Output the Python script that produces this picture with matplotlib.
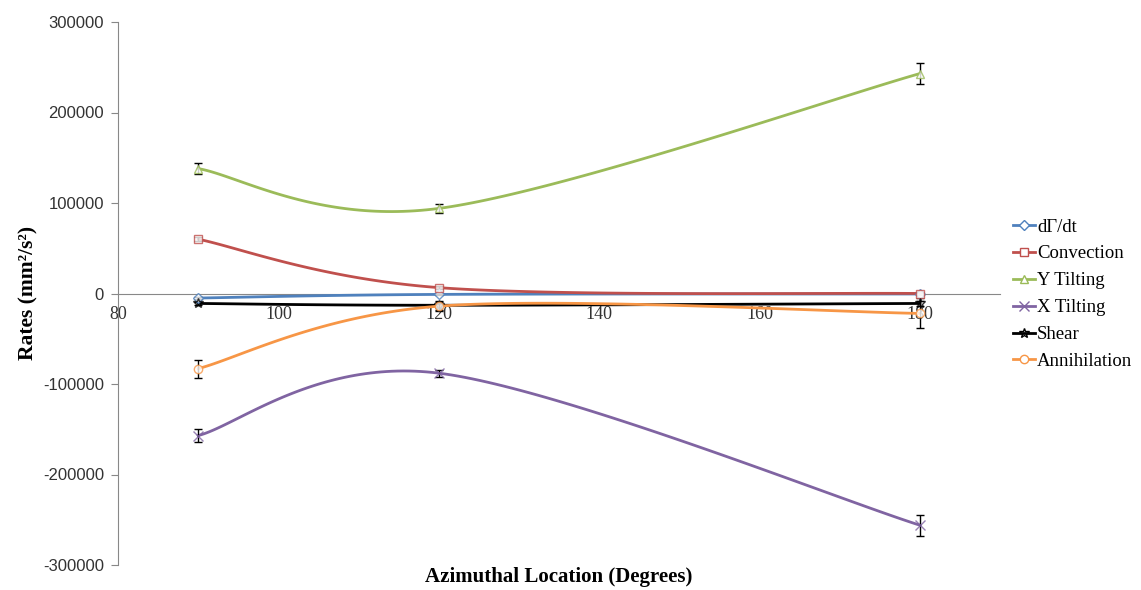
import numpy as np
import matplotlib
matplotlib.use("Agg")
import matplotlib.pyplot as plt

# ---- data ----
x_deg = [90, 120, 180]
series_names = ["d\u0393/dt", "Convection", "Y Tilting", "X Tilting", "Shear", "Annihilation"]
dgdt = [-5000, -1000, -500]
convection = [60000, 6500, 0]
y_tilting = [138000, 94000, 243000]
x_tilting = [-157000, -88000, -256000]
shear = [-11000, -13000, -11000]
annihilation = [-83000, -14000, -22000]

y_tilting_err = [6000, 5000, 11500]
x_tilting_err = [7000, 4000, 11500]
annihilation_err = [10000, 5000, 16500]
shear_err = [1500, 5000, 3000]
convection_err = [2000, 1500, 1500]
dgdt_err = [1500, 1000, 1000]

x_ticks = [80, 100, 120, 140, 160, 180]
y_ticks = [-300000, -200000, -100000, 0, 100000, 200000, 300000]

colors = ["#4F81BD", "#C0504D", "#9BBB59", "#8064A2", "#000000", "#F79646"]
markers = ["D", "s", "^", "x", "*", "o"]
msizes = [5, 6, 6, 7, 7, 6]


def excel_smooth(xs, ys, n=60):
    pts = np.column_stack([xs, ys]).astype(float)
    out = []
    m = len(pts)
    for i in range(m - 1):
        p0 = pts[i - 1] if i > 0 else pts[i]
        p1 = pts[i]
        p2 = pts[i + 1]
        p3 = pts[i + 2] if i + 2 < m else pts[i + 1]
        c1 = p1 + (p2 - p0) / 6.0
        c2 = p2 - (p3 - p1) / 6.0
        t = np.linspace(0, 1, n)[:, None]
        b = ((1 - t) ** 3) * p1 + 3 * ((1 - t) ** 2) * t * c1 + 3 * (1 - t) * t ** 2 * c2 + t ** 3 * p2
        out.append(b if i == 0 else b[1:])
    out = np.vstack(out)
    return out[:, 0], out[:, 1]


fig = plt.figure(figsize=(11.41, 5.90), dpi=100)
ax = fig.add_axes([118 / 1141, 1 - 565 / 590, (1000 - 118) / 1141, (565 - 22) / 590])

data = [dgdt, convection, y_tilting, x_tilting, shear, annihilation]
errs = [dgdt_err, convection_err, y_tilting_err, x_tilting_err, shear_err, annihilation_err]

handles = []
for name, ys, er, c, mk, ms in zip(series_names, data, errs, colors, markers, msizes):
    sx, sy = excel_smooth(x_deg, ys)
    ax.plot(sx, sy, color=c, lw=2.0, zorder=2)
    ax.errorbar(x_deg, ys, yerr=er, fmt="none", ecolor="black", elinewidth=1.0,
                capsize=3, capthick=1.0, zorder=3)
    mfc = "none" if mk in ("x", "*") else "white"
    ax.plot(x_deg, ys, linestyle="none", marker=mk, markersize=ms,
            markeredgecolor=c, markerfacecolor=mfc, markeredgewidth=1.0, zorder=4, alpha=0.8)
    h, = ax.plot([], [], color=c, lw=2.0, marker=mk, markersize=ms,
                 markeredgecolor=c, markerfacecolor=mfc, markeredgewidth=1.0)
    handles.append(h)

ax.set_xlim(80, 190)
ax.set_ylim(-300000, 300000)
ax.set_xticks(x_ticks)
ax.set_yticks(y_ticks)
ax.set_xticklabels([str(v) for v in x_ticks])
ax.set_yticklabels([str(v) for v in y_ticks])

for s in ["top", "right"]:
    ax.spines[s].set_visible(False)
ax.spines["left"].set_color("#888888")
ax.spines["bottom"].set_color("#888888")
ax.spines["bottom"].set_position(("data", 0))
ax.spines["bottom"].set_zorder(1)
ax.tick_params(axis="y", direction="out", length=5, color="#888888",
               labelsize=12, labelcolor="#333333", pad=5)
ax.tick_params(axis="x", length=0, labelsize=13, labelcolor="#333333", pad=9)
for lab in ax.get_yticklabels():
    lab.set_fontfamily("Liberation Sans")
for lab in ax.get_xticklabels():
    lab.set_fontfamily("Liberation Serif")

fig.text(28 / 1141, 1 - 293 / 590, "Rates (mm\u00b2/s\u00b2)", rotation=90,
         ha="center", va="center", fontsize=15.5, fontweight="bold",
         family="Liberation Serif")
fig.text(559 / 1141, 1 - 577 / 590, "Azimuthal Location (Degrees)",
         ha="center", va="center", fontsize=15, fontweight="bold",
         family="Liberation Serif")

leg = fig.legend(handles, series_names, loc="upper left",
                 bbox_to_anchor=(1005 / 1141, 1 - 211 / 590), frameon=False,
                 prop={"family": "Liberation Serif", "size": 13.5},
                 handlelength=1.2, handletextpad=0.1, labelspacing=0.52,
                 borderaxespad=0)

fig.savefig("out.png", dpi=100)
